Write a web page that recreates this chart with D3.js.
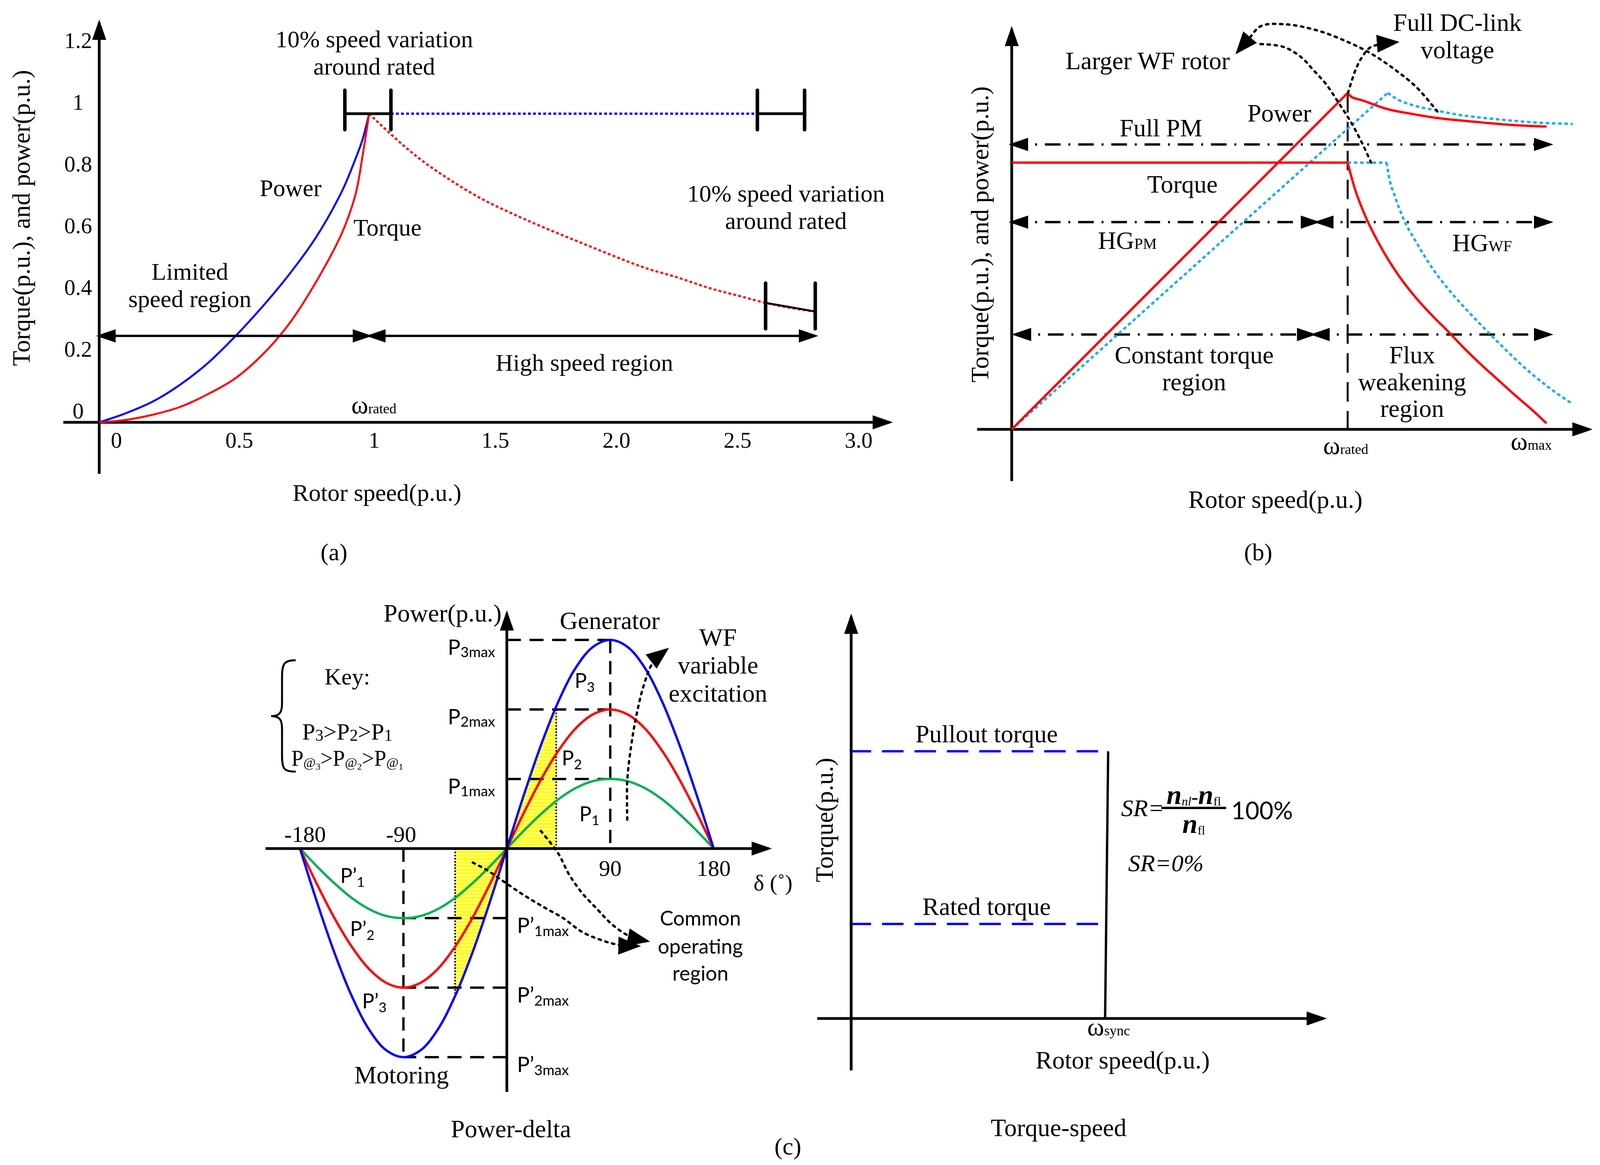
<!DOCTYPE html>
<html>
<head>
<meta charset="utf-8">
<script src="https://cdn.jsdelivr.net/npm/d3@7/dist/d3.min.js"></script>
<style>
  body { margin: 0; background: #fff; }
  svg text { font-family: "Liberation Serif", "DejaVu Serif", serif; fill: #000; }
  svg text.sans { font-family: Lato, "Liberation Sans", sans-serif; }
</style>
</head>
<body>
<script>
// ---------- panel (a): torque & power against rotor speed
const aSpeed = [0, 0.1, 0.2, 0.3, 0.4, 0.5, 0.6, 0.7, 0.8, 0.9, 0.95, 0.975, 1];
const aPower = [0, 0.03, 0.068, 0.122, 0.19, 0.275, 0.37, 0.475, 0.595, 0.75, 0.855, 0.915, 1];
const aTorque = [0, 0.008, 0.025, 0.05, 0.09, 0.14, 0.215, 0.315, 0.45, 0.615, 0.74, 0.86, 1];
const aHighSpeed = [1, 1.089, 1.197, 1.331, 1.465, 1.6, 1.734, 1.868, 2.0, 2.137, 2.271, 2.405, 2.54, 2.637, 2.835];
const aHighTorque = [1, 0.934, 0.861, 0.787, 0.724, 0.673, 0.627, 0.584, 0.542, 0.501, 0.47, 0.435, 0.407, 0.387, 0.359];
const aXTicks = [0, 0.5, 1, 1.5, 2, 2.5, 3];
const aXLabels = ['0', '0.5', '1', '1.5', '2.0', '2.5', '3.0'];
const aYTicks = [0, 0.2, 0.4, 0.6, 0.8, 1, 1.2];
const aYLabels = ['0', '0.2', '0.4', '0.6', '0.8', '1', '1.2'];
const aBandRated = [0.91, 1.09];
const aBandTopRight = [2.603, 2.798];
const aBandLowRight = [2.637, 2.842];
const aBandLowSeg = [[2.637, 0.387], [2.842, 0.359]];
const aRegionY = 0.28;

// ---------- panel (b): PM vs wound-field, torque & power
const bRiseRedW = [0, 1], bRiseRedP = [0, 1];
const bRedPowW = [1, 1.012, 1.041, 1.115, 1.19, 1.264, 1.338, 1.413, 1.487, 1.592];
const bRedPow = [1, 0.988, 0.979, 0.953, 0.938, 0.926, 0.918, 0.911, 0.905, 0.9];
const bRatedTorque = 0.793;
const bRedDropW = [1, 1.02, 1.05, 1.1, 1.15, 1.2, 1.25, 1.3, 1.35, 1.4, 1.45, 1.5, 1.55, 1.592];
const bRedDrop = [0.793, 0.72, 0.64, 0.54, 0.46, 0.395, 0.34, 0.29, 0.238, 0.19, 0.145, 0.1, 0.057, 0.018];
const bRiseBlueW = [0, 1.119], bRiseBlueP = [0, 1];
const bBluePowW = [1.119, 1.152, 1.19, 1.264, 1.338, 1.413, 1.487, 1.562, 1.67];
const bBluePow = [1, 0.979, 0.965, 0.948, 0.934, 0.925, 0.918, 0.912, 0.908];
const bBlueDropW = [1.116, 1.124, 1.141, 1.166, 1.202, 1.255, 1.307, 1.359, 1.412, 1.464, 1.516, 1.594, 1.667];
const bBlueDrop = [0.793, 0.746, 0.692, 0.626, 0.56, 0.475, 0.408, 0.35, 0.295, 0.243, 0.193, 0.128, 0.077];
const bSpans = [
  { y: 0.847, from: 0, to: 1.603 },
  { y: 0.616, from: 0, to: 0.909 },
  { y: 0.616, from: 0.909, to: 1.603 },
  { y: 0.282, from: 0.009, to: 0.898 },
  { y: 0.282, from: 0.898, to: 1.603 }
];
const bNoteA = [[1.07, 0.793], [1.041, 0.855], [1.01, 0.913], [0.973, 0.971], [0.936, 1.026], [0.899, 1.067], [0.862, 1.106], [0.809, 1.137], [0.728, 1.146]];
const bNoteB = [[1.267, 0.945], [1.205, 1.017], [1.144, 1.067], [1.07, 1.117], [0.995, 1.154], [0.906, 1.187], [0.816, 1.204], [0.742, 1.199], [0.705, 1.16], [0.672, 1.122]];
const bNoteC = [[1.001, 1.0], [1.024, 1.07], [1.045, 1.11], [1.07, 1.137], [1.145, 1.151]];

// ---------- panel (c) left: power-delta
const cDelta = [-180, -165, -150, -135, -120, -105, -90, -75, -60, -45, -30, -15, 0, 15, 30, 45, 60, 75, 90, 105, 120, 135, 150, 165, 180];
const cP1 = [0, -0.26, -0.5, -0.71, -0.87, -0.97, -1, -0.97, -0.87, -0.71, -0.5, -0.26, 0, 0.26, 0.5, 0.71, 0.87, 0.97, 1, 0.97, 0.87, 0.71, 0.5, 0.26, 0];
const cP2 = [0, -0.52, -1, -1.41, -1.73, -1.93, -2, -1.93, -1.73, -1.41, -1, -0.52, 0, 0.52, 1, 1.41, 1.73, 1.93, 2, 1.93, 1.73, 1.41, 1, 0.52, 0];
const cP3 = [0, -0.78, -1.5, -2.12, -2.6, -2.9, -3, -2.9, -2.6, -2.12, -1.5, -0.78, 0, 0.78, 1.5, 2.12, 2.6, 2.9, 3, 2.9, 2.6, 2.12, 1.5, 0.78, 0];
const cSeries = [
  { name: 'P1', vals: cP1, color: '#00b050' },
  { name: 'P2', vals: cP2, color: '#ff0000' },
  { name: 'P3', vals: cP3, color: '#0000ff' }
];
const cMaxLevels = [1, 2, 3];
const cXTicks = [-180, -90, 90, 180];
const cShadePos = [0, 43], cShadeNeg = [-45, 0];
const cNoteWF = [[104.8, 0.416], [104.8, 0.972], [108.2, 1.478], [113, 1.933], [119.4, 2.36], [127, 2.67], [139, 2.86]];
const cNoteCommon1 = [[29.6, 0.253], [44.6, -0.067], [54.1, -0.371], [65.3, -0.635], [78.6, -0.871], [91.5, -1.09], [106.5, -1.258], [122, -1.33]];
const cNoteCommon2 = [[-29.6, -0.202], [-16.3, -0.32], [0, -0.506], [16.3, -0.685], [32.7, -0.848], [49, -1.0], [65.3, -1.197], [82, -1.315], [96.6, -1.382], [114, -1.402]];

// ---------- panel (c) right: torque-speed
const rLevels = [{ name: 'Pullout torque', t: 2.826 }, { name: 'Rated torque', t: 1 }];
const rSyncLine = [[1.006, 2.826], [0.994, 0]];

const zip = (a, b) => a.map((v, i) => [v, b[i]]);

const svg = d3.select('body').append('svg').attr('width', 4103).attr('height', 2982);
svg.append('rect').attr('width', 4103).attr('height', 2982).attr('fill', '#fff');
const defs = svg.append('defs');

function addMarker(id, len, wid) {
  defs.append('marker')
    .attr('id', id)
    .attr('markerUnits', 'userSpaceOnUse')
    .attr('viewBox', `0 0 ${len} ${wid}`)
    .attr('refX', len - 8).attr('refY', wid / 2)
    .attr('markerWidth', len).attr('markerHeight', wid)
    .attr('orient', 'auto-start-reverse')
    .append('path')
    .attr('d', `M0,0L${len},${wid / 2}L0,${wid}Z`)
    .attr('fill', '#000');
}
addMarker('axisHead', 52, 36);
addMarker('head', 50, 34);
addMarker('bigHead', 58, 46);

const pat = defs.append('pattern').attr('id', 'hatch')
  .attr('patternUnits', 'userSpaceOnUse').attr('width', 12).attr('height', 9);
pat.append('rect').attr('width', 12).attr('height', 9).attr('fill', '#ffff00');
pat.append('rect').attr('y', 6).attr('width', 12).attr('height', 3).attr('fill', '#fffcb8');

function txt(g, x, y, s, size, anchor = 'middle', cls) {
  const t = g.append('text').attr('x', x).attr('y', y)
    .attr('font-size', size).attr('text-anchor', anchor).text(s);
  if (cls) t.attr('class', cls);
  return t;
}
function rich(g, x, y, parts, anchor = 'middle', cls) {
  const t = g.append('text').attr('x', x).attr('y', y).attr('text-anchor', anchor);
  if (cls) t.attr('class', cls);
  let off = 0;
  parts.forEach(p => {
    const s = t.append('tspan').attr('font-size', p.s).text(p.t);
    const o = p.o || 0;
    if (o !== off) s.attr('dy', o - off);
    off = o;
    if (p.dx) s.attr('dx', p.dx);
    if (p.i) s.attr('font-style', 'italic');
    if (p.b) s.attr('font-weight', 'bold');
    if (p.f) s.attr('font-family', p.f);
  });
  return t;
}
function seg(g, x1, y1, x2, y2, w, color = '#000') {
  return g.append('line').attr('x1', x1).attr('y1', y1).attr('x2', x2).attr('y2', y2)
    .attr('stroke', color).attr('stroke-width', w);
}
function curve(g, gen, pts, color, w, dash) {
  const p = g.append('path').attr('d', gen(pts)).attr('fill', 'none')
    .attr('stroke', color).attr('stroke-width', w);
  if (dash) p.attr('stroke-dasharray', dash);
  return p;
}

// ================= panel (a)
const ga = svg.append('g');
const xa = d3.scaleLinear().domain([0, 1, 3]).range([254, 945, 2185]);
const ya = d3.scaleLinear().domain([0, 1]).range([1081, 291]);
const riseA = d3.line().x(d => xa(d[0])).y(d => ya(d[1])).curve(d3.curveCatmullRom.alpha(0.5));
const smoothA = d3.line().x(d => xa(d[0])).y(d => ya(d[1])).curve(d3.curveMonotoneX);

seg(ga, xa(-0.133), ya(0), xa(3.15), ya(0), 7).attr('marker-end', 'url(#axisHead)');
seg(ga, xa(0), ya(-0.167), xa(0), ya(1.295), 7).attr('marker-end', 'url(#axisHead)');

aXTicks.forEach((v, i) => txt(ga, xa(v) + (v === 0 ? 44 : 13), 1146, aXLabels[i], 57));
aYTicks.forEach((v, i) => txt(ga, 200, ya(v) - 10, aYLabels[i], 57));

curve(ga, riseA, zip(aSpeed, aPower), '#0000ff', 5);
curve(ga, riseA, zip(aSpeed, aTorque), '#ff0000', 5);
curve(ga, smoothA, zip(aHighSpeed, aHighTorque), '#ff0000', 5.5, '7,6');

// 10% speed bands
seg(ga, xa(aBandRated[1]), ya(1), xa(aBandTopRight[0]), ya(1), 6, '#0000ff').attr('stroke-dasharray', '7,6');
[aBandRated, aBandTopRight].forEach(b => {
  seg(ga, xa(b[0]), ya(1), xa(b[1]), ya(1), 7);
  b.forEach(w => seg(ga, xa(w), ya(0.948), xa(w), ya(1.076), 9).attr('stroke-linecap', 'round'));
});
aBandLowRight.forEach(w => seg(ga, xa(w), ya(0.303), xa(w), ya(0.451), 9).attr('stroke-linecap', 'round'));
seg(ga, xa(aBandLowSeg[0][0]), ya(aBandLowSeg[0][1]), xa(aBandLowSeg[1][0]), ya(aBandLowSeg[1][1]), 5);

// region arrows
seg(ga, xa(0), ya(aRegionY), xa(1), ya(aRegionY), 6)
  .attr('marker-start', 'url(#head)').attr('marker-end', 'url(#head)');
seg(ga, xa(1), ya(aRegionY), xa(aBandLowRight[1]), ya(aRegionY), 6)
  .attr('marker-start', 'url(#head)').attr('marker-end', 'url(#head)');

txt(ga, 958, 121, '10% speed variation', 62);
txt(ga, 958, 191, 'around rated', 62);
txt(ga, 2012, 516, '10% speed variation', 62);
txt(ga, 2012, 586, 'around rated', 62);
txt(ga, 744, 502, 'Power', 62);
txt(ga, 992, 603, 'Torque', 62);
txt(ga, 486, 716, 'Limited', 62);
txt(ga, 486, 786, 'speed region', 62);
txt(ga, 1496, 949, 'High speed region', 62);
rich(ga, xa(1) + 12, 1058, [{ t: 'ω', s: 66 }, { t: 'rated', s: 36 }]);
txt(ga, 965, 1282, 'Rotor speed(p.u.)', 62);
txt(ga, 855, 1434, '(a)', 62);
txt(ga, 0, 0, 'Torque(p.u.), and power(p.u.)', 64)
  .attr('transform', 'translate(76,558) rotate(-90)');

// ================= panel (b)
const gb = svg.append('g');
const xb = d3.scaleLinear().domain([0, 1]).range([2590, 3450]);
const yb = d3.scaleLinear().domain([0, 1]).range([1099, 238]);
const straightB = d3.line().x(d => xb(d[0])).y(d => yb(d[1]));
const smoothB = d3.line().x(d => xb(d[0])).y(d => yb(d[1])).curve(d3.curveMonotoneX);
const noteB = d3.line().x(d => xb(d[0])).y(d => yb(d[1])).curve(d3.curveCatmullRom);
const lightBlue = '#1badee';

seg(gb, xb(-0.103), yb(0), xb(1.72), yb(0), 7).attr('marker-end', 'url(#axisHead)');
seg(gb, xb(0), yb(-0.154), xb(0), yb(1.19), 7).attr('marker-end', 'url(#axisHead)');

// rated speed divider
seg(gb, xb(1), yb(1), xb(1), yb(0), 5).attr('stroke-dasharray', '50,24');

// dash-dot region arrows
bSpans.forEach(s => seg(gb, xb(s.from), yb(s.y), xb(s.to), yb(s.y), 6)
  .attr('stroke-dasharray', '40,20,5,20')
  .attr('marker-start', 'url(#head)').attr('marker-end', 'url(#head)'));

// wound-field (light blue dotted)
curve(gb, straightB, zip(bRiseBlueW, bRiseBlueP), lightBlue, 6, '9,7');
curve(gb, smoothB, zip(bBluePowW, bBluePow), lightBlue, 6, '9,7');
curve(gb, straightB, [[1, bRatedTorque], [bBlueDropW[0], bRatedTorque]], lightBlue, 6, '9,7');
curve(gb, smoothB, zip(bBlueDropW, bBlueDrop), lightBlue, 6, '9,7');

// permanent magnet (red)
curve(gb, straightB, zip(bRiseRedW, bRiseRedP), '#ff0000', 6);
curve(gb, smoothB, zip(bRedPowW, bRedPow), '#ff0000', 6);
curve(gb, straightB, [[0, bRatedTorque], [1, bRatedTorque]], '#ff0000', 6);
curve(gb, smoothB, zip(bRedDropW, bRedDrop), '#ff0000', 6);

// dotted annotation arrows
curve(gb, noteB, bNoteA, '#000', 6, '6,12').attr('stroke-linecap', 'round');
curve(gb, noteB, bNoteB, '#000', 6, '6,12').attr('stroke-linecap', 'round').attr('marker-end', 'url(#bigHead)');
curve(gb, noteB, bNoteC, '#000', 6, '6,12').attr('stroke-linecap', 'round').attr('marker-end', 'url(#bigHead)');

txt(gb, 2938, 177, 'Larger WF rotor', 64);
txt(gb, 3731, 79, 'Full DC-link', 64);
txt(gb, 3731, 149, 'voltage', 64);
txt(gb, 3275, 311, 'Power', 64);
txt(gb, 2972, 349, 'Full PM', 64);
txt(gb, 3027, 493, 'Torque', 64);
rich(gb, 2811, 637, [{ t: 'HG', s: 64 }, { t: 'PM', s: 40 }], 'start');
rich(gb, 3718, 643, [{ t: 'HG', s: 64 }, { t: 'WF', s: 40 }], 'start');
txt(gb, 3057, 930, 'Constant torque', 64);
txt(gb, 3057, 999, 'region', 64);
txt(gb, 3615, 930, 'Flux', 64);
txt(gb, 3615, 999, 'weakening', 64);
txt(gb, 3615, 1067, 'region', 64);
rich(gb, xb(1) - 5, 1162, [{ t: 'ω', s: 66 }, { t: 'rated', s: 36 }]);
rich(gb, 3920, 1151, [{ t: 'ω', s: 66 }, { t: 'max', s: 36 }]);
txt(gb, 3265, 1300, 'Rotor speed(p.u.)', 64);
txt(gb, 3221, 1434, '(b)', 62);
txt(gb, 0, 0, 'Torque(p.u.), and power(p.u.)', 64)
  .attr('transform', 'translate(2530,600) rotate(-90)');

// ================= panel (c) left
const gc = svg.append('g');
const xc = d3.scaleLinear().domain([-180, 180]).range([768, 1827]);
const yc = d3.scaleLinear().domain([-3, 3]).range([2706, 1638]);
const sineLine = d3.line().x(d => xc(d[0])).y(d => yc(d[1])).curve(d3.curveCatmullRom);
const noteC = d3.line().x(d => xc(d[0])).y(d => yc(d[1])).curve(d3.curveCatmullRom);

// shaded common operating region
[['shadePos', cShadePos], ['shadeNeg', cShadeNeg]].forEach(([id, r]) => {
  defs.append('clipPath').attr('id', id).append('rect')
    .attr('x', xc(r[0])).attr('width', xc(r[1]) - xc(r[0]))
    .attr('y', yc(3.5)).attr('height', yc(-3.5) - yc(3.5));
  gc.append('path')
    .attr('d', d3.area().x(d => xc(d[0])).y0(yc(0)).y1(d => yc(d[1])).curve(d3.curveCatmullRom)(zip(cDelta, cP3)))
    .attr('fill', 'url(#hatch)').attr('clip-path', `url(#${id})`);
});
seg(gc, xc(cShadePos[1]), yc(2), xc(cShadePos[1]), yc(0), 4).attr('stroke-dasharray', '4,4');
seg(gc, xc(cShadeNeg[0]), yc(0), xc(cShadeNeg[0]), yc(-2.1), 4).attr('stroke-dasharray', '4,4');

// max level guides
cMaxLevels.forEach(k => {
  seg(gc, xc(0), yc(k), xc(90), yc(k), 6).attr('stroke-dasharray', '36,22');
  seg(gc, xc(0), yc(-k), xc(-90), yc(-k), 6).attr('stroke-dasharray', '36,22');
});
seg(gc, xc(90), yc(3), xc(90), yc(0), 6).attr('stroke-dasharray', '34,20');
seg(gc, xc(-90), yc(0), xc(-90), yc(-3), 6).attr('stroke-dasharray', '34,20');

cSeries.forEach(s => curve(gc, sineLine, zip(cDelta, s.vals), s.color, 6));

seg(gc, xc(-210), yc(0), xc(228), yc(0), 7).attr('marker-end', 'url(#axisHead)');
seg(gc, xc(0), yc(-3.5), xc(0), yc(3.38), 7).attr('marker-end', 'url(#axisHead)');

curve(gc, noteC, cNoteWF, '#000', 6, '6,12').attr('stroke-linecap', 'round').attr('marker-end', 'url(#bigHead)');
curve(gc, noteC, cNoteCommon1, '#000', 6, '6,12').attr('stroke-linecap', 'round').attr('marker-end', 'url(#bigHead)');
curve(gc, noteC, cNoteCommon2, '#000', 6, '6,12').attr('stroke-linecap', 'round').attr('marker-end', 'url(#bigHead)');

cXTicks.forEach(v => txt(gc, xc(v) + (v === -180 ? 13 : v === -90 ? -6 : 0), v < 0 ? 2155 : 2242, String(v), 58));
txt(gc, 1929, 2279, 'δ (˚)', 58, 'start');

cMaxLevels.forEach(k => {
  rich(gc, xc(0) - 30, yc(k) + 38, [{ t: 'P', s: 54 }, { t: `${k}max`, s: 37, o: 6 }], 'end', 'sans');
  rich(gc, xc(0) + 26, yc(-k) + 38, [{ t: 'P’', s: 54 }, { t: `${k}max`, s: 37, o: 8 }], 'start', 'sans');
});
rich(gc, 1471, 1761, [{ t: 'P', s: 52 }, { t: '3', s: 35, o: 10 }], 'start', 'sans');
rich(gc, 1438, 1959, [{ t: 'P', s: 52 }, { t: '2', s: 35, o: 10 }], 'start', 'sans');
rich(gc, 1483, 2102, [{ t: 'P', s: 52 }, { t: '1', s: 35, o: 10 }], 'start', 'sans');
rich(gc, 871, 2260, [{ t: 'P’', s: 52 }, { t: '1', s: 35, o: 10 }], 'start', 'sans');
rich(gc, 896, 2396, [{ t: 'P’', s: 52 }, { t: '2', s: 35, o: 10 }], 'start', 'sans');
rich(gc, 927, 2581, [{ t: 'P’', s: 52 }, { t: '3', s: 35, o: 10 }], 'start', 'sans');

txt(gc, 1284, 1591, 'Power(p.u.)', 64, 'end');
txt(gc, 1561, 1610, 'Generator', 64);
txt(gc, 1838, 1653, 'WF', 64);
txt(gc, 1838, 1724, 'variable', 64);
txt(gc, 1838, 1796, 'excitation', 64);
txt(gc, 1793, 2369, 'Common', 52, 'middle', 'sans');
txt(gc, 1793, 2441, 'operating', 52, 'middle', 'sans');
txt(gc, 1793, 2510, 'region', 52, 'middle', 'sans');
txt(gc, 1028, 2773, 'Motoring', 64);
txt(gc, 1308, 2911, 'Power-delta', 64);
txt(gc, 2017, 2955, '(c)', 62);

// key with brace
gc.append('path')
  .attr('d', 'M757,1690 C726,1690 722,1700 722,1735 L722,1800 C722,1824 716,1833 694,1833 C716,1833 722,1842 722,1866 L722,1932 C722,1968 726,1975 757,1975')
  .attr('fill', 'none').attr('stroke', '#000').attr('stroke-width', 5);
txt(gc, 889, 1752, 'Key:', 60);
rich(gc, 889, 1893, [
  { t: 'P', s: 60 }, { t: '3', s: 42, o: 3 }, { t: '>', s: 60 },
  { t: 'P', s: 60 }, { t: '2', s: 42, o: 3 }, { t: '>', s: 60 },
  { t: 'P', s: 60 }, { t: '1', s: 42, o: 3 }
]);
rich(gc, 889, 1960, [
  { t: 'P', s: 56 }, { t: '@', s: 34, o: 3 }, { t: '3', s: 24, o: 10 }, { t: '>', s: 56 },
  { t: 'P', s: 56 }, { t: '@', s: 34, o: 3 }, { t: '2', s: 24, o: 10 }, { t: '>', s: 56 },
  { t: 'P', s: 56 }, { t: '@', s: 34, o: 3 }, { t: '1', s: 24, o: 10 }
]);

// ================= panel (c) right
const gr = svg.append('g');
const xr = d3.scaleLinear().domain([0, 1]).range([2179, 2833]);
const yr = d3.scaleLinear().domain([0, 1]).range([2607, 2365]);
const straightR = d3.line().x(d => xr(d[0])).y(d => yr(d[1]));

rLevels.forEach(l => {
  seg(gr, xr(-0.006), yr(l.t), xr(1.006), yr(l.t), 6, '#0000ff').attr('stroke-dasharray', '55,28');
  txt(gr, xr(0.53), yr(l.t) - 23, l.name, 64);
});
curve(gr, straightR, rSyncLine, '#000', 6);
seg(gr, xr(-0.133), yr(0), xr(1.85), yr(0), 7).attr('marker-end', 'url(#axisHead)');
seg(gr, xr(0), yr(-0.55), xr(0), yr(4.25), 7).attr('marker-end', 'url(#axisHead)');

rich(gr, xr(1) + 5, 2650, [{ t: 'ω', s: 66 }, { t: 'sync', s: 36 }]);
txt(gr, 2874, 2735, 'Rotor speed(p.u.)', 64);
txt(gr, 2710, 2908, 'Torque-speed', 64);
txt(gr, 0, 0, 'Torque(p.u.)', 64).attr('transform', 'translate(2132,2099) rotate(-90)');

// slip ratio formula
txt(gr, 2870, 2089, 'SR=', 62, 'start').attr('font-style', 'italic');
seg(gr, 2973, 2068, 3139, 2068, 6);
rich(gr, 3056, 2058, [
  { t: 'n', s: 70, i: true, b: true }, { t: 'nl', s: 32, o: 4, i: true }, { t: '-', s: 52, o: 0 },
  { t: 'n', s: 70, i: true, b: true }, { t: 'fl', s: 32, o: 4 }
]);
rich(gr, 3056, 2132, [{ t: 'n', s: 70, i: true, b: true }, { t: 'fl', s: 32, o: 4 }]);
txt(gr, 3152, 2097, '100%', 62, 'start', 'sans');
txt(gr, 2888, 2230, 'SR=0%', 62, 'start').attr('font-style', 'italic');
</script>
</body>
</html>
